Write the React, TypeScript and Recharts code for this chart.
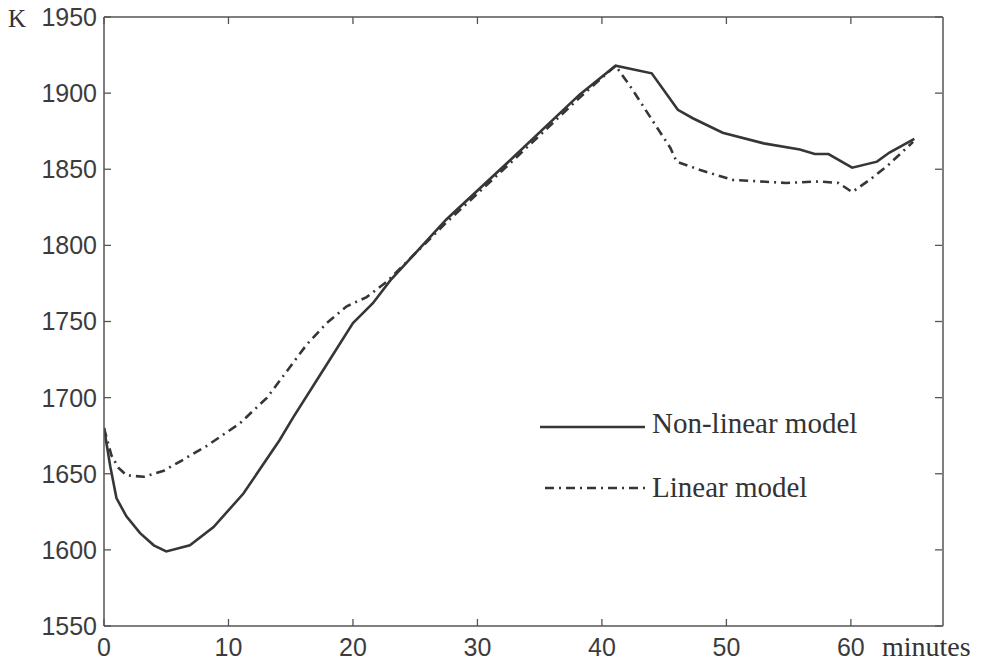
import React from 'react';
import { LineChart, Line, XAxis, YAxis, Legend } from 'recharts';

// minutes / K
const nonLinearModel = [
  { t: 0, k: 1680 }, { t: 0.5, k: 1655 }, { t: 1, k: 1634 }, { t: 1.8, k: 1622 },
  { t: 2.9, k: 1611 }, { t: 4, k: 1603 }, { t: 5, k: 1599 }, { t: 6.9, k: 1603 },
  { t: 8.8, k: 1615 }, { t: 11.2, k: 1637 }, { t: 14.1, k: 1672 }, { t: 15.2, k: 1687 },
  { t: 17.6, k: 1718 }, { t: 20, k: 1749 }, { t: 21.6, k: 1762 }, { t: 23, k: 1777 },
  { t: 27.5, k: 1817 }, { t: 32.9, k: 1858 }, { t: 38.2, k: 1899 }, { t: 41.1, k: 1918 },
  { t: 44, k: 1913 }, { t: 46.1, k: 1889 }, { t: 47.3, k: 1883.5 }, { t: 49.7, k: 1874 },
  { t: 53, k: 1867 }, { t: 55.9, k: 1863 }, { t: 57.1, k: 1860 }, { t: 58.2, k: 1860 },
  { t: 60.1, k: 1851 }, { t: 62.1, k: 1855 }, { t: 63.1, k: 1861 }, { t: 65.1, k: 1870 },
];

const linearModel = [
  { t: 0, k: 1680 }, { t: 0.6, k: 1662 }, { t: 1.15, k: 1654 }, { t: 1.8, k: 1649 },
  { t: 3.2, k: 1648 }, { t: 4.8, k: 1652 }, { t: 6.1, k: 1658 }, { t: 8.2, k: 1668 },
  { t: 10.9, k: 1683 }, { t: 13.1, k: 1700 }, { t: 16.3, k: 1735 }, { t: 17.9, k: 1749 },
  { t: 19.5, k: 1760 }, { t: 21.1, k: 1766 }, { t: 22.7, k: 1776 }, { t: 27.5, k: 1815 },
  { t: 32.9, k: 1856 }, { t: 38.2, k: 1897 }, { t: 41.1, k: 1918 }, { t: 42.4, k: 1903 },
  { t: 43.9, k: 1884 }, { t: 45.5, k: 1864 }, { t: 46, k: 1855 }, { t: 47.9, k: 1849.5 },
  { t: 50.5, k: 1843 }, { t: 52.7, k: 1842 }, { t: 54.8, k: 1841 }, { t: 57.5, k: 1842 },
  { t: 59, k: 1841 }, { t: 60.1, k: 1835 }, { t: 61.5, k: 1843 }, { t: 62.9, k: 1852 },
  { t: 65, k: 1868 },
];

const X_TICKS = [0, 10, 20, 30, 40, 50, 60];
const Y_TICKS = [1550, 1600, 1650, 1700, 1750, 1800, 1850, 1900, 1950];
const X_DOMAIN = [0, 67.4];
const Y_DOMAIN = [1550, 1950];
const SERIES_NAMES = ['Non-linear model', 'Linear model'];

const INK = '#363636';
const AXIS = '#555';
const DASH_DOT = '9 5 2 5';
const TICK_LEN = 7;
const sans = '"Liberation Sans", Arial, sans-serif';
const serif = '"Liberation Serif", "Times New Roman", serif';
const frameLine = { stroke: AXIS, strokeWidth: 1.5 };

// matlab style: tick marks point into the plot box
const BottomTick = ({ x, y, payload }: any) => (
  <g>
    <line x1={x} x2={x} y1={y - 12} y2={y - 12 - TICK_LEN} stroke={AXIS} strokeWidth={1.3} />
    <text x={x} y={y} dy="0.71em" textAnchor="middle" fontFamily={sans} fontSize={25} fill="#3c3c3c">
      {payload.value}
    </text>
  </g>
);

const LeftTick = ({ x, y, payload }: any) => (
  <g>
    <line x1={x + 7} x2={x + 7 + TICK_LEN} y1={y} y2={y} stroke={AXIS} strokeWidth={1.3} />
    <text x={x} y={y} dy="0.355em" textAnchor="end" fontFamily={sans} fontSize={25} fill="#3c3c3c">
      {payload.value}
    </text>
  </g>
);

const TopTick = ({ x, y }: any) => (
  <line x1={x} x2={x} y1={y} y2={y + TICK_LEN} stroke={AXIS} strokeWidth={1.3} />
);

const RightTick = ({ x, y }: any) => (
  <line x1={x - 1} x2={x - 1 - TICK_LEN} y1={y} y2={y} stroke={AXIS} strokeWidth={1.3} />
);

const LegendBox = () => (
  <svg width={400} height={110}>
    <line x1={10} x2={115} y1={32} y2={32} stroke={INK} strokeWidth={2.6} />
    <text x={122} y={38} fontFamily={serif} fontSize={29} fill="#333">{SERIES_NAMES[0]}</text>
    <line x1={15} x2={115} y1={93} y2={93} stroke={INK} strokeWidth={2.6} strokeDasharray={DASH_DOT} />
    <text x={122} y={102} fontFamily={serif} fontSize={29} fill="#333">{SERIES_NAMES[1]}</text>
  </svg>
);

export default function App() {
  return (
    <div style={{ position: 'absolute', left: 0, top: 0, width: 981, height: 669, background: '#fff' }}>
      <LineChart width={981} height={669} margin={{ top: 17, right: 38, bottom: 0, left: 0 }}>
        <XAxis
          dataKey="t"
          type="number"
          domain={X_DOMAIN}
          ticks={X_TICKS}
          interval={0}
          allowDataOverflow
          height={43}
          tickSize={0}
          tickMargin={12}
          tick={BottomTick}
          axisLine={frameLine}
          tickLine={false}
        />
        <YAxis
          dataKey="k"
          type="number"
          domain={Y_DOMAIN}
          ticks={Y_TICKS}
          interval={0}
          allowDataOverflow
          width={104}
          tickSize={0}
          tickMargin={7}
          tick={LeftTick}
          axisLine={frameLine}
          tickLine={false}
        />
        <XAxis xAxisId="top" orientation="top" mirror dataKey="t" type="number" domain={X_DOMAIN} ticks={X_TICKS}
          interval={0} allowDataOverflow height={1} tick={TopTick} tickSize={0} tickMargin={0}
          axisLine={frameLine} tickLine={false} />
        <YAxis yAxisId="right" orientation="right" mirror dataKey="k" type="number" domain={Y_DOMAIN} ticks={Y_TICKS}
          interval={0} allowDataOverflow width={1} tick={RightTick} tickSize={0} tickMargin={0}
          axisLine={frameLine} tickLine={false} />
        <Legend
          layout="vertical"
          align="center"
          verticalAlign="middle"
          content={() => <LegendBox />}
          wrapperStyle={{ left: 530, top: 395, width: 400 }}
        />
        <Line data={nonLinearModel} dataKey="k" name={SERIES_NAMES[0]} type="linear" stroke={INK}
          strokeWidth={2.6} dot={false} isAnimationActive={false} />
        <Line data={linearModel} dataKey="k" name={SERIES_NAMES[1]} type="linear" stroke={INK}
          strokeWidth={2.6} strokeDasharray={DASH_DOT} dot={false} isAnimationActive={false} />
        {/* invisible copy so the top/right frame axes get a scale and ticks */}
        <Line data={nonLinearModel} dataKey="k" xAxisId="top" yAxisId="right" stroke="none" strokeWidth={0}
          dot={false} activeDot={false} legendType="none" isAnimationActive={false} />
      </LineChart>
      <span style={{ position: 'absolute', left: 8, top: 6, fontFamily: serif, fontSize: 25, lineHeight: 1, color: '#333' }}>K</span>
      <span style={{ position: 'absolute', left: 882, top: 633, fontFamily: serif, fontSize: 28, lineHeight: 1, color: '#333' }}>minutes</span>
    </div>
  );
}
